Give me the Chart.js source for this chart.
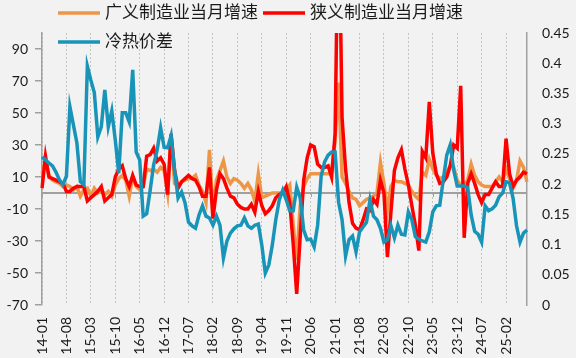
<!DOCTYPE html>
<html><head><meta charset="utf-8">
<script src="https://cdn.jsdelivr.net/npm/chart.js@4.4.0/dist/chart.umd.min.js"></script>
<style>html,body{margin:0;padding:0;background:#f2f2f2;}#wrap{width:576px;height:358px;}</style>
</head><body><div id="wrap"><canvas id="c" width="576" height="358"></canvas></div>
<script>
const months = [
 '14-01','14-02','14-03','14-04','14-05','14-06','14-07','14-08','14-09','14-10','14-11','14-12',
 '15-01','15-02','15-03','15-04','15-05','15-06','15-07','15-08','15-09','15-10','15-11','15-12',
 '16-01','16-02','16-03','16-04','16-05','16-06','16-07','16-08','16-09','16-10','16-11','16-12',
 '17-01','17-02','17-03','17-04','17-05','17-06','17-07','17-08','17-09','17-10','17-11','17-12',
 '18-01','18-02','18-03','18-04','18-05','18-06','18-07','18-08','18-09','18-10','18-11','18-12',
 '19-01','19-02','19-03','19-04','19-05','19-06','19-07','19-08','19-09','19-10','19-11','19-12',
 '20-01','20-02','20-03','20-04','20-05','20-06','20-07','20-08','20-09','20-10','20-11','20-12',
 '21-01','21-02','21-03','21-04','21-05','21-06','21-07','21-08','21-09','21-10','21-11','21-12',
 '22-01','22-02','22-03','22-04','22-05','22-06','22-07','22-08','22-09','22-10','22-11','22-12',
 '23-01','23-02','23-03','23-04','23-05','23-06','23-07','23-08','23-09','23-10','23-11','23-12',
 '24-01','24-02','24-03','24-04','24-05','24-06','24-07','24-08','24-09','24-10','24-11','24-12',
 '25-01','25-02','25-03','25-04','25-05','25-06','25-07','25-08'];

// 广义制造业当月增速 (left axis)
const broadMfg = [
 12,20,11,8,7,6,4,5,4,2,
 4,-2,2,3,-2,3,0,2,-1,1,
 -2,5,9,11,8,-2,10,4,2,4,
 15,14,15,13,16,14,0,35,6,4,
 7,8,9,9,11,5,1,-6,27,-11,
 8,14,20,10,6,9,8,6,3,6,
 2,-5,12,-3,-2,-1,0,0,0,0,
 2,5,-20,-42,-8,4,9,12,12,12,
 12,12,12,14,32,69,10,6,1,-3,
 -4,-8,-6,-4,-3,-2,0,19,6,-11,
 4,8,7,7,6,5,1,-2,-4,13,
 11,21,15,11,9,10,13,17,16,8,
 5,5,8,18,11,7,5,4,4,4,
 7,10,7,15,9,3,8,20,16,7];

// 狭义制造业当月增速 (left axis)
const narrowMfg = [
 3,23,10,9,8,7,6,1,1,3,
 4,4,4,-5,-3,-1,1,4,-5,-3,
 -1,10,15,17,9,4,11,5,4,4,
 23,24,28,20,22,18,-1,37,14,3,
 7,9,11,9,8,4,-2,-2,16,-16,
 2,12,9,3,-2,-3,-7,-9,-10,-10,
 -7,-12,1,-8,-13,-11,-8,-3,-1,0,
 4,-6,-32,-63,-27,8,22,30,29,18,
 16,16,17,10,37,190,47,15,-6,-19,
 -22,-23,-17,-10,-11,-4,-7,8,0,-40,
 -12,14,22,27,15,5,-8,-20,-36,26,
 22,57,25,12,6,7,10,17,30,28,
 67,-28,6,12,6,-1,-6,-1,-1,3,
 7,4,4,34,12,4,8,10,13,12];

// 冷热价差 (right axis)
const coldHotSpread = [
 0.245,0.240,0.235,0.230,0.220,0.207,0.199,0.213,0.328,0.298,
 0.268,0.204,0.199,0.395,0.372,0.351,0.278,0.295,0.356,0.295,
 0.321,0.273,0.218,0.318,0.318,0.303,0.389,0.253,0.240,0.147,
 0.151,0.190,0.232,0.256,0.293,0.261,0.260,0.280,0.223,0.177,
 0.187,0.169,0.137,0.131,0.127,0.149,0.164,0.147,0.144,0.132,
 0.147,0.132,0.078,0.106,0.119,0.126,0.131,0.132,0.144,0.131,
 0.127,0.132,0.134,0.099,0.053,0.066,0.099,0.141,0.174,0.190,
 0.174,0.156,0.156,0.195,0.177,0.124,0.108,0.109,0.096,0.132,
 0.213,0.237,0.248,0.253,0.253,0.170,0.141,0.081,0.108,0.114,
 0.088,0.121,0.129,0.137,0.174,0.147,0.141,0.127,0.104,0.108,
 0.131,0.111,0.132,0.117,0.116,0.154,0.141,0.113,0.109,0.106,
 0.104,0.121,0.154,0.164,0.165,0.207,0.248,0.265,0.223,0.197,
 0.197,0.197,0.194,0.149,0.122,0.117,0.104,0.164,0.156,0.159,
 0.165,0.179,0.185,0.204,0.202,0.177,0.131,0.104,0.119,0.124];

const leftTicks = [-70,-50,-30,-10,10,30,50,70,90];
const rightTicks = [0,0.05,0.1,0.15,0.2,0.25,0.3,0.35,0.4,0.45];
const xTickEvery = 7;
const seriesNames = ['广义制造业当月增速','狭义制造业当月增速','冷热价差'];
const seriesColors = ['#EE9648','#FF0000','#1794B7'];

const bgPlugin = {
  id:'bg',
  beforeDraw(chart){
    const c = chart.ctx; c.save(); c.fillStyle='#f2f2f2';
    c.fillRect(0,0,chart.width,chart.height); c.restore();
  },
  beforeDatasetsDraw(chart){
    const c = chart.ctx, a = chart.chartArea, y = chart.scales.y.getPixelForValue(0);
    c.save(); c.strokeStyle='#a0a0a0'; c.lineWidth=2;
    c.beginPath(); c.moveTo(a.left,y); c.lineTo(a.right,y); c.stroke();
    c.lineWidth=1;
    chart.scales.x.ticks.forEach(t=>{
      const x = Math.round(chart.scales.x.getPixelForValue(t.value))+0.5;
      c.beginPath(); c.moveTo(x,y); c.lineTo(x,y+4); c.stroke();
    });
    c.restore();
  },
  afterDraw(chart){
    const c = chart.ctx; c.save();
    c.font = '17px "Noto Sans CJK SC"'; c.textBaseline='middle'; c.fillStyle='#1a1a1a';
    const items = [[58,100,13,105],[263,305,13,310],[58,100,42,105]];
    items.forEach((it,i)=>{
      c.strokeStyle = seriesColors[i]; c.lineWidth = 3.5;
      c.beginPath(); c.moveTo(it[0],it[2]); c.lineTo(it[1],it[2]); c.stroke();
      c.fillText(seriesNames[i], it[3], it[2]-1);
    });
    c.restore();
  }
};

new Chart(document.getElementById('c'), {
  type:'line',
  data:{
    labels: months,
    datasets:[
      {label:seriesNames[0], data:broadMfg, yAxisID:'y', borderColor:seriesColors[0], borderWidth:3.5, pointRadius:0, tension:0, order:3},
      {label:seriesNames[1], data:narrowMfg, yAxisID:'y', borderColor:seriesColors[1], borderWidth:3.5, pointRadius:0, tension:0, order:2},
      {label:seriesNames[2], data:coldHotSpread, yAxisID:'y1', borderColor:seriesColors[2], borderWidth:3.5, pointRadius:0, tension:0, order:1}
    ]
  },
  options:{
    responsive:false, devicePixelRatio:1, animation:false,
    layout:{padding:{top:33,left:0,right:0,bottom:0}},
    plugins:{legend:{display:false}, tooltip:{enabled:false}},
    scales:{
      x:{
        offset:false,
        afterBuildTicks: s => { s.ticks = s.ticks.filter(t => t.value % xTickEvery === 0); },
        afterFit: s => { s.height = 53; },
        ticks:{autoSkip:false, minRotation:90, maxRotation:90, padding:12, color:'#1a1a1a', font:{family:'Lato', size:14}},
        grid:{color:'#c4c4c4', lineWidth:1, drawTicks:false},
        border:{display:false, dash:[2,2]}
      },
      y:{
        position:'left', min:-70, max:100,
        afterBuildTicks: s => { s.ticks = leftTicks.map(v => ({value:v})); },
        afterFit: s => { s.width = 42; },
        ticks:{padding:7, color:'#1a1a1a', font:{family:'Lato', size:14}},
        grid:{drawOnChartArea:false, drawTicks:true, tickLength:7, color:'#a0a0a0', lineWidth:1.5},
        border:{display:true, color:'#a0a0a0', width:1.5}
      },
      y1:{
        position:'right', min:0, max:0.45,
        afterBuildTicks: s => { s.ticks = rightTicks.map(v => ({value:v})); },
        afterFit: s => { s.width = 49; },
        ticks:{padding:15, color:'#1a1a1a', font:{family:'Lato', size:14}, callback: v => String(Number(v.toFixed(2)))},
        grid:{drawOnChartArea:false, drawTicks:false},
        border:{display:true, color:'#a0a0a0', width:1.5}
      }
    }
  },
  plugins:[bgPlugin]
});
</script></body></html>
